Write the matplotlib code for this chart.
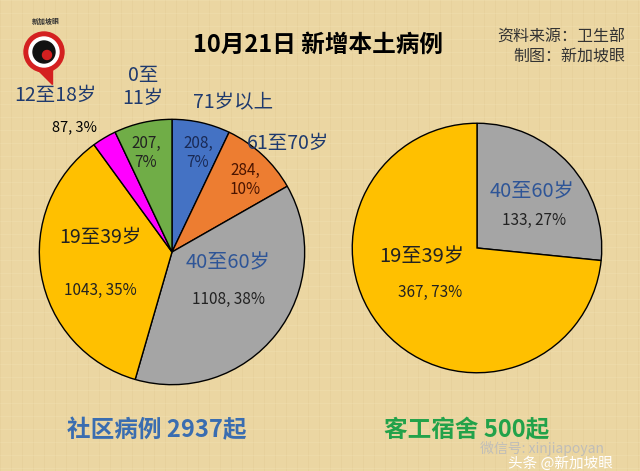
import matplotlib
matplotlib.use('Agg')
from matplotlib import pyplot as plt
from matplotlib.patches import Circle, Polygon

plt.rcParams['font.family'] = ['Noto Sans CJK SC', 'DejaVu Sans']

## 数据
community_labels = ['71岁以上', '61至70岁', '40至60岁', '19至39岁', '12至18岁', '0至\n11岁']
community_values = [208, 284, 1108, 1043, 87, 207]
community_pct = ['7%', '10%', '38%', '35%', '3%', '7%']
community_colors = ['#4472C4', '#ED7D31', '#A5A5A5', '#FFC000', '#FF00FF', '#70AD47']

dorm_labels = ['40至60岁', '19至39岁']
dorm_values = [133, 367]
dorm_pct = ['27%', '73%']
dorm_colors = ['#A5A5A5', '#FFC000']

title = '10月21日 新增本土病例'
source = '资料来源：卫生部\n制图：新加坡眼'
community_total = '社区病例 2937起'
dorm_total = '客工宿舍 500起'

W, H = 640, 471
bg = '#EBD6A2'
fig = plt.figure(figsize=(W / 100, H / 100), dpi=100, facecolor=bg)

## 背景层 (像素坐标)
base = fig.add_axes([0, 0, 1, 1])
base.set_xlim(0, W)
base.set_ylim(H, 0)
base.axis('off')
## 布纹
for x in range(0, W, 11):
    base.plot([x, x], [0, H], color='#d6bb80', lw=0.5, alpha=0.25, zorder=0)
for y in range(0, H, 13):
    base.plot([0, W], [y, y], color='#f7e9c2', lw=0.5, alpha=0.3, zorder=0)


def pie_axes(cx, cy, r):
    ax = fig.add_axes([(cx - r) / W, (H - cy - r) / H, 2 * r / W, 2 * r / H])
    ax.set_facecolor('none')
    return ax


## 左饼图
ax1 = pie_axes(172, 252, 134)
ax1.pie(community_values, colors=community_colors, startangle=90, counterclock=False,
        wedgeprops=dict(edgecolor='black', linewidth=1))
ax1.set_xlim(-1.01, 1.01)
ax1.set_ylim(-1.01, 1.01)

## 右饼图
ax2 = pie_axes(477, 248, 126)
ax2.pie(dorm_values, colors=dorm_colors, startangle=90, counterclock=False,
        wedgeprops=dict(edgecolor='black', linewidth=1))
ax2.set_xlim(-1.01, 1.01)
ax2.set_ylim(-1.01, 1.01)

## 文字层 (放在饼图上面)
top = fig.add_axes([0, 0, 1, 1])
top.set_xlim(0, W)
top.set_ylim(H, 0)
top.axis('off')
top.set_facecolor('none')

navy = '#1F3A6E'
blue = '#2E5597'
dark = '#222222'

## 左图标签
top.text(55, 95, community_labels[4], fontsize=14, color=navy, ha='center', va='center')
top.text(143, 87, community_labels[5], fontsize=14, color=navy, ha='center', va='center', linespacing=1.15)
top.text(233, 103, community_labels[0], fontsize=14, color=navy, ha='center', va='center')
top.text(288, 143, community_labels[1], fontsize=14, color=navy, ha='center', va='center')
top.text(100, 237, community_labels[3], fontsize=14, color=dark, ha='center', va='center')
top.text(228, 263, community_labels[2], fontsize=14.5, color=blue, ha='center', va='center')

top.text(75, 127, f'{community_values[4]}, {community_pct[4]}', fontsize=10.5, color='black', ha='center', va='center')
top.text(146, 153, f'{community_values[5]},\n{community_pct[5]}', fontsize=11, color=dark, ha='center', va='center')
top.text(198, 153, f'{community_values[0]},\n{community_pct[0]}', fontsize=11, color='#1a2a55', ha='center', va='center')
top.text(245, 180, f'{community_values[1]},\n{community_pct[1]}', fontsize=11, color='#4a1400', ha='center', va='center')
top.text(228, 299, f'{community_values[2]}, {community_pct[2]}', fontsize=11, color=dark, ha='center', va='center')
top.text(100, 290, f'{community_values[3]}, {community_pct[3]}', fontsize=11, color=dark, ha='center', va='center')

## 右图标签
top.text(532, 192, dorm_labels[0], fontsize=14.5, color=blue, ha='center', va='center')
top.text(534, 220, f'{dorm_values[0]}, {dorm_pct[0]}', fontsize=11, color=dark, ha='center', va='center')
top.text(422, 257, dorm_labels[1], fontsize=14.5, color=dark, ha='center', va='center')
top.text(430, 292, f'{dorm_values[1]}, {dorm_pct[1]}', fontsize=11, color=dark, ha='center', va='center')

## 标题、来源
top.text(318, 45, title, fontsize=17, fontweight='bold', color='black', ha='center', va='center')
top.text(625, 47, source, fontsize=11.5, color='#333333', ha='right', va='center', linespacing=1.25)

## 底部合计
top.text(157, 430, community_total, fontsize=17, fontweight='bold', color='#3A6DB0', ha='center', va='center')
top.text(467, 430, dorm_total, fontsize=17, fontweight='bold', color='#22A24A', ha='center', va='center')

## logo
top.add_patch(Polygon([[34, 66], [52, 66], [52, 84]], closed=True, color='#D42020', zorder=3))
top.add_patch(Circle((44, 52), 20, color='#D42020', zorder=3))
top.add_patch(Circle((44, 52), 15, color='white', zorder=4))
top.add_patch(Circle((44, 52), 11, color='#111111', zorder=5))
top.add_patch(Circle((47, 55), 4.5, color='#D42020', zorder=6))
top.text(46, 21, '新加坡眼', fontsize=5, color='#333333', ha='center', va='center', fontweight='bold')

## 水印
top.text(480, 449, '微信号: xinjiapoyan', fontsize=10, color='#bbbbbb', ha='left', va='center', alpha=0.9)
top.text(508, 464, '头条 @新加坡眼', fontsize=10.5, color='white', ha='left', va='center')

fig.savefig('out.png', dpi=100, facecolor=bg)
